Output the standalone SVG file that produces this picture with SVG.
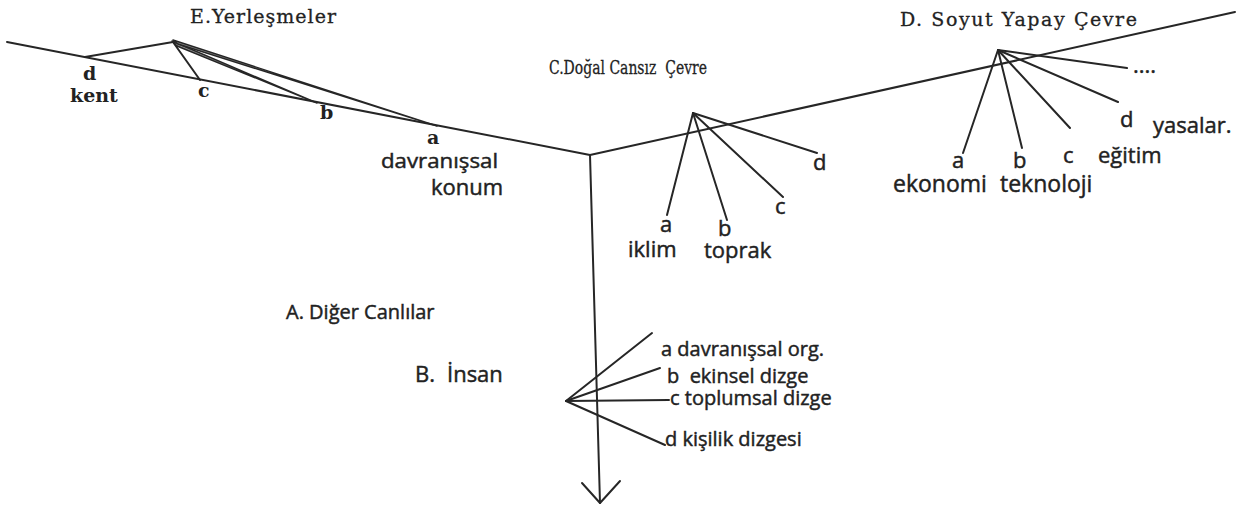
<svg xmlns="http://www.w3.org/2000/svg" width="1243" height="517" viewBox="0 0 1243 517">
  <style>
    .ln { stroke: #262626; stroke-width: 2; fill: none; stroke-linecap: round; stroke-linejoin: round; }
    .wedge { stroke: #262626; stroke-width: 1.4; fill: #8a8a8a; stroke-linejoin: round; }
    .ttl { font-family: "DejaVu Serif", "Liberation Serif", serif; font-size: 19px; fill: #222; stroke: #222; stroke-width: 0.3; }
    .sl { font-family: "DejaVu Serif", "Liberation Serif", serif; font-size: 19px; font-weight: bold; fill: #222; }
    .lb { font-family: "Open Sans", "Lato", sans-serif; font-size: 20px; fill: #222; stroke: #222; stroke-width: 0.45; }
    .md { font-size: 22px; }
    .lg { font-size: 23px; }
  </style>
  <rect width="1243" height="517" fill="#fff"/>

  <!-- main axes and all branch strokes -->
  <g id="connectors">
    <!-- left axis -->
    <path class="ln" d="M7,42 L590,155"/>
    <!-- right axis -->
    <path class="ln" d="M590,155 L1235,12"/>
    <!-- downward axis with open arrowhead -->
    <path class="ln" d="M590,155 L600,503"/>
    <path class="ln" d="M582,483 L600,503 L620,481"/>

    <!-- E branch -->
    <path class="ln" d="M85,57 L173,42"/>
    <path class="ln" d="M173,42 L200,80" stroke-width="3"/>
    <polygon class="wedge" points="172,41 317,103 177,46"/>
    <polygon class="wedge" points="173,40 437,126 178,44"/>

    <!-- C branch -->
    <path class="ln" d="M693,113 L667,215"/>
    <path class="ln" d="M693,113 L727,220"/>
    <path class="ln" d="M693,113 L783,197"/>
    <path class="ln" d="M693,113 L817,153"/>

    <!-- D branch -->
    <path class="ln" d="M998,50 L963,153"/>
    <path class="ln" d="M998,50 L1022,148"/>
    <path class="ln" d="M998,50 L1070,128"/>
    <path class="ln" d="M998,50 L1118,102"/>
    <path class="ln" d="M998,50 L1127,68"/>

    <!-- B branch -->
    <path class="ln" d="M566,401 L652,333"/>
    <path class="ln" d="M566,401 L660,368"/>
    <path class="ln" d="M566,401 L669,400"/>
    <path class="ln" d="M566,401 L665,445"/>
  </g>

  <g id="node-E">
    <text class="ttl" x="190" y="23" textLength="146" lengthAdjust="spacing">E.Yerleşmeler</text>
    <text class="sl" x="83" y="80">d</text>
    <text class="sl" x="70" y="102">kent</text>
    <text class="sl" x="198" y="97">c</text>
    <text class="sl" x="320" y="119">b</text>
    <text class="sl" x="427" y="144">a</text>
    <text class="lb" x="381" y="168" textLength="117" lengthAdjust="spacingAndGlyphs">davranışsal</text>
    <text class="lb md" x="431" y="195">konum</text>
  </g>

  <g id="node-C">
    <text class="ttl" x="549" y="74" font-size="20" textLength="158" lengthAdjust="spacingAndGlyphs" xml:space="preserve">C.Doğal Cansız  Çevre</text>
    <text class="lb md" x="660" y="232">a</text>
    <text class="lb md" x="628" y="257">iklim</text>
    <text class="lb md" x="718" y="236">b</text>
    <text class="lb md" x="704" y="258">toprak</text>
    <text class="lb md" x="775" y="214">c</text>
    <text class="lb md" x="813" y="170">d</text>
  </g>

  <g id="node-D">
    <text class="ttl" x="900" y="26" font-size="21" textLength="237" lengthAdjust="spacing">D. Soyut Yapay Çevre</text>
    <text class="lb md" x="952" y="168">a</text>
    <text class="lb lg" x="893" y="192">ekonomi</text>
    <text class="lb md" x="1013" y="168">b</text>
    <text class="lb lg" x="1000" y="192">teknoloji</text>
    <text class="lb md" x="1063" y="163">c</text>
    <text class="lb md" x="1098" y="163">eğitim</text>
    <text class="lb md" x="1120" y="127">d</text>
    <text class="lb md" x="1153" y="133">yasalar.</text>
    <text class="lb md" x="1133" y="73">....</text>
  </g>

  <g id="node-A">
    <text class="lb" x="286" y="319" font-size="21">A. Diğer Canlılar</text>
  </g>

  <g id="node-B">
    <text class="lb md" x="415" y="382">B.</text>
    <text class="lb md" x="447" y="382">İnsan</text>
    <text class="lb" x="661" y="356">a davranışsal org.</text>
    <text class="lb" x="667" y="383" xml:space="preserve">b  ekinsel dizge</text>
    <text class="lb" x="670" y="405">c toplumsal dizge</text>
    <text class="lb" x="665" y="446">d kişilik dizgesi</text>
  </g>
</svg>
